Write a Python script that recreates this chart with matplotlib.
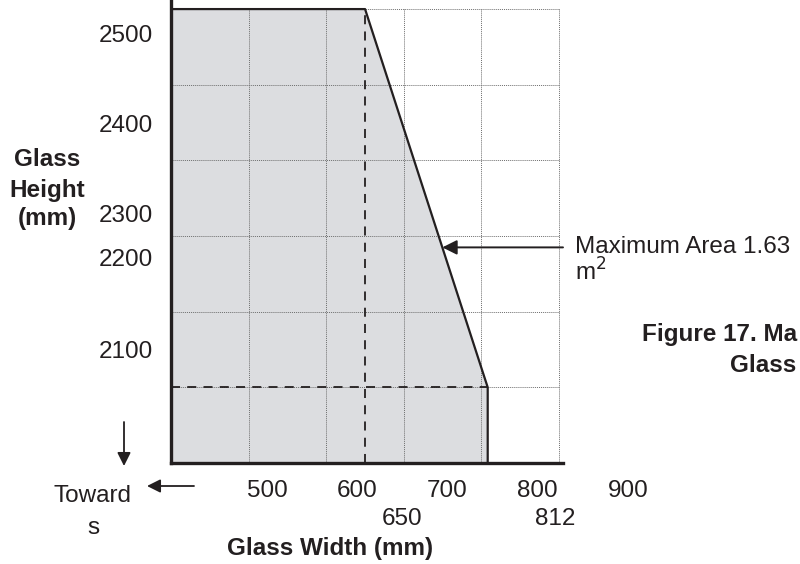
"""Maximum glass size chart (width vs height)."""

import matplotlib.pyplot as plt
import numpy as np

plt.rcParams["font.family"] = ["Liberation Sans", "DejaVu Sans"]

# envelope of the allowed glass sizes (width mm, height mm)
shape_width = [400, 400, 650, 808, 808]
shape_height = [1900, 2500, 2500, 2000, 1900]

grid_x = [500, 600, 700, 800, 900]
grid_y = [2000, 2100, 2200, 2300, 2400, 2500]

# tick labels as printed in the source page
x_labels = ["500", "600", "700", "800", "900"]
x_labels_2 = ["650", "812"]
y_labels = ["2500", "2400", "2300", "2200", "2100"]

area_note = "Maximum Area 1.63"
arrow_height = 2185

# text positions, figure pixels from the top-left corner
x_label_px = [267, 357, 447, 537, 628]
x_label_2_px = [402, 555]
y_label_px = [36, 126, 216, 260, 352]

W, H = 800, 564
FS = 17.5


def fig_xy(px, py):
    return px / W, 1 - py / H


fig = plt.figure(figsize=(W / 100, H / 100), dpi=100)
ax = fig.add_axes([171 / W, 1 - 463 / H, (563 - 171) / W, 463 / H])
ax.set_xlim(400, 905)
ax.set_ylim(1900, 2512)

# grid
ax.vlines(grid_x, 1900, 2500, colors="#6e6e6e", linestyles=(0, (1, 1)), lw=0.7, zorder=2)
ax.hlines(grid_y, 400, 900, colors="#6e6e6e", linestyles=(0, (1, 1)), lw=0.7, zorder=2)

# shaded envelope
ax.fill(shape_width, shape_height, color="#dcdde0", lw=0, zorder=1)
ax.plot(shape_width[1:], shape_height[1:], color="#231f20", lw=1.6, zorder=4)

# dashed guides
ax.plot([shape_width[2]] * 2, [1900, shape_height[2]], color="#231f20",
        lw=1.3, ls=(0, (5, 4)), zorder=3)
ax.plot([400, shape_width[3]], [shape_height[3]] * 2, color="#231f20",
        lw=1.3, ls=(0, (5, 4)), zorder=3)

# arrow to the sloped edge
tip_x = np.interp(arrow_height, shape_height[3:1:-1], shape_width[3:1:-1])
ax.annotate("", xy=(tip_x, arrow_height), xytext=(905, arrow_height),
            arrowprops=dict(arrowstyle="-|>", color="#231f20", lw=1.4,
                            mutation_scale=22, shrinkA=0, shrinkB=0),
            zorder=5)

for side in ["top", "right"]:
    ax.spines[side].set_visible(False)
for side in ["left", "bottom"]:
    ax.spines[side].set_linewidth(2.4)
    ax.spines[side].set_color("#231f20")
    ax.spines[side].set_zorder(6)
ax.set_xticks([])
ax.set_yticks([])

txt = dict(fontsize=FS, color="#231f20")
for lab, px in zip(x_labels, x_label_px):
    fig.text(*fig_xy(px, 491), lab, ha="center", va="center", **txt)
for lab, px in zip(x_labels_2, x_label_2_px):
    fig.text(*fig_xy(px, 519), lab, ha="center", va="center", **txt)
for lab, py in zip(y_labels, y_label_px):
    fig.text(*fig_xy(153, py), lab, ha="right", va="center", **txt)

for line, py in zip(["Glass", "Height", "(mm)"], [160, 190, 218]):
    fig.text(*fig_xy(47, py), line, ha="center", va="center",
             fontweight="bold", **txt)
fig.text(*fig_xy(330, 548), "Glass Width (mm)", ha="center", va="center",
         fontweight="bold", **txt)

fig.text(*fig_xy(575, 247), area_note, ha="left", va="center", **txt)
fig.text(*fig_xy(575, 272), "m$^2$", ha="left", va="center", **txt)

# caption, cropped at the page edge as in the source
fig.text(*fig_xy(797, 335), "Figure 17. Ma", ha="right", va="center",
         fontweight="bold", **txt)
fig.text(*fig_xy(730, 365), "Glass", ha="left", va="center",
         fontweight="bold", **txt)

fig.text(*fig_xy(93, 496), "Toward", ha="center", va="center", **txt)
fig.text(*fig_xy(93, 528), "s", ha="center", va="center", **txt)

arrow = dict(arrowstyle="-|>", color="#231f20", lw=1.3, mutation_scale=20,
             shrinkA=0, shrinkB=0)
ax.annotate("", xy=(124, H - 466), xytext=(124, H - 422),
            xycoords="figure pixels", textcoords="figure pixels",
            arrowprops=arrow, annotation_clip=False)
ax.annotate("", xy=(147, H - 486), xytext=(194, H - 486),
            xycoords="figure pixels", textcoords="figure pixels",
            arrowprops=arrow, annotation_clip=False)

fig.savefig("out.png", dpi=100)
